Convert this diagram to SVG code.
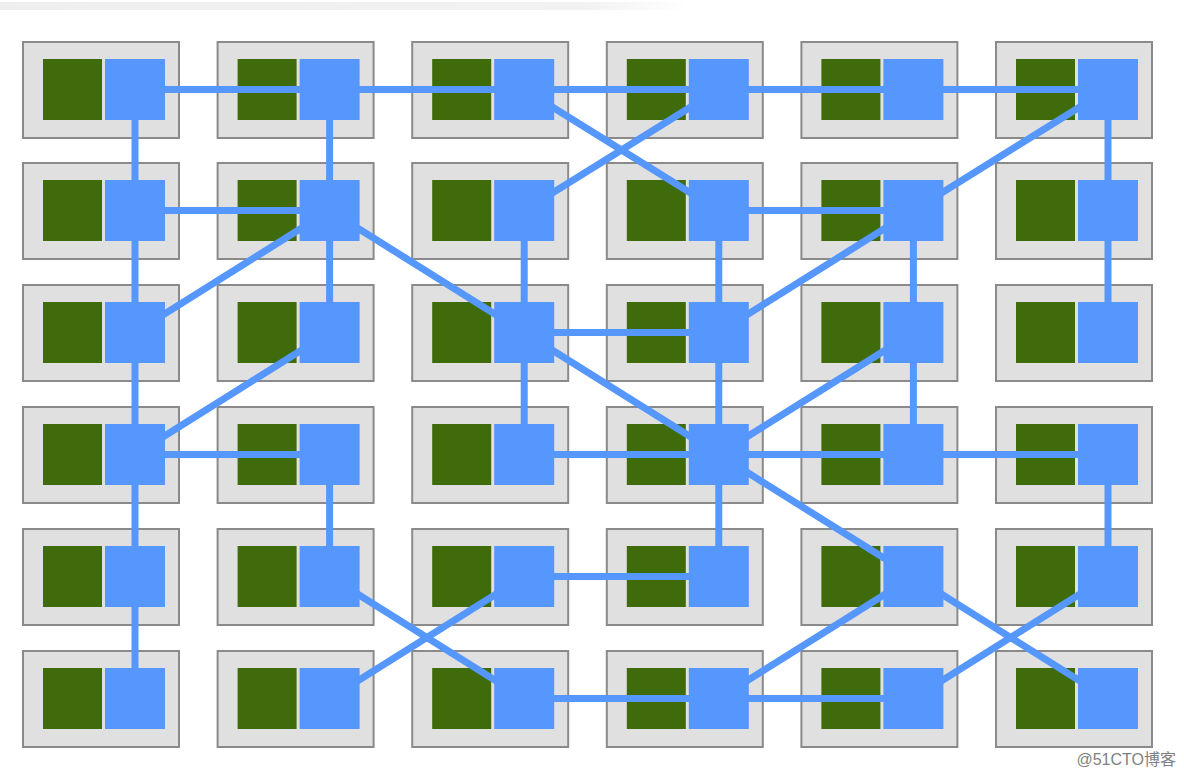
<svg xmlns="http://www.w3.org/2000/svg" width="1184" height="778" viewBox="0 0 1184 778">
<style>
.cell{fill:#e0e0e0;stroke:#8a8a8a;stroke-width:2}
.g{fill:#3f6b0a}
.b{fill:#5597fd}
.ln{stroke:#5597fd;stroke-width:7;fill:none;stroke-linecap:butt}
.wm{font-family:"Liberation Sans","Noto Sans CJK SC",sans-serif;font-size:16px;fill:#808080}
</style>
<defs>
<linearGradient id="band" x1="0" y1="0" x2="1" y2="0">
<stop offset="0" stop-color="#eeeeee"/>
<stop offset="0.85" stop-color="#f2f2f2"/>
<stop offset="1" stop-color="#ffffff"/>
</linearGradient>
<g id="nodeShape">
<rect class="cell" x="1" y="1" width="156" height="96"/>
<rect class="g" x="21" y="18" width="59" height="61"/>
<rect class="b" x="83" y="18" width="60" height="61"/>
</g>
</defs>
<rect x="0" y="0" width="1184" height="778" fill="#ffffff"/>
<rect x="0" y="2" width="690" height="8" fill="url(#band)"/>
<g id="nodes">
<g id="n00" transform="translate(22,41)"><use href="#nodeShape"/></g>
<g id="n01" transform="translate(216.6,41)"><use href="#nodeShape"/></g>
<g id="n02" transform="translate(411.2,41)"><use href="#nodeShape"/></g>
<g id="n03" transform="translate(605.8,41)"><use href="#nodeShape"/></g>
<g id="n04" transform="translate(800.4,41)"><use href="#nodeShape"/></g>
<g id="n05" transform="translate(995,41)"><use href="#nodeShape"/></g>
<g id="n10" transform="translate(22,162)"><use href="#nodeShape"/></g>
<g id="n11" transform="translate(216.6,162)"><use href="#nodeShape"/></g>
<g id="n12" transform="translate(411.2,162)"><use href="#nodeShape"/></g>
<g id="n13" transform="translate(605.8,162)"><use href="#nodeShape"/></g>
<g id="n14" transform="translate(800.4,162)"><use href="#nodeShape"/></g>
<g id="n15" transform="translate(995,162)"><use href="#nodeShape"/></g>
<g id="n20" transform="translate(22,284)"><use href="#nodeShape"/></g>
<g id="n21" transform="translate(216.6,284)"><use href="#nodeShape"/></g>
<g id="n22" transform="translate(411.2,284)"><use href="#nodeShape"/></g>
<g id="n23" transform="translate(605.8,284)"><use href="#nodeShape"/></g>
<g id="n24" transform="translate(800.4,284)"><use href="#nodeShape"/></g>
<g id="n25" transform="translate(995,284)"><use href="#nodeShape"/></g>
<g id="n30" transform="translate(22,406)"><use href="#nodeShape"/></g>
<g id="n31" transform="translate(216.6,406)"><use href="#nodeShape"/></g>
<g id="n32" transform="translate(411.2,406)"><use href="#nodeShape"/></g>
<g id="n33" transform="translate(605.8,406)"><use href="#nodeShape"/></g>
<g id="n34" transform="translate(800.4,406)"><use href="#nodeShape"/></g>
<g id="n35" transform="translate(995,406)"><use href="#nodeShape"/></g>
<g id="n40" transform="translate(22,528)"><use href="#nodeShape"/></g>
<g id="n41" transform="translate(216.6,528)"><use href="#nodeShape"/></g>
<g id="n42" transform="translate(411.2,528)"><use href="#nodeShape"/></g>
<g id="n43" transform="translate(605.8,528)"><use href="#nodeShape"/></g>
<g id="n44" transform="translate(800.4,528)"><use href="#nodeShape"/></g>
<g id="n45" transform="translate(995,528)"><use href="#nodeShape"/></g>
<g id="n50" transform="translate(22,650)"><use href="#nodeShape"/></g>
<g id="n51" transform="translate(216.6,650)"><use href="#nodeShape"/></g>
<g id="n52" transform="translate(411.2,650)"><use href="#nodeShape"/></g>
<g id="n53" transform="translate(605.8,650)"><use href="#nodeShape"/></g>
<g id="n54" transform="translate(800.4,650)"><use href="#nodeShape"/></g>
<g id="n55" transform="translate(995,650)"><use href="#nodeShape"/></g>
</g>
<g id="connectors" class="ln">
<!-- horizontals -->
<path d="M135,89.5 H1108"/>
<path d="M135,210.5 H329.6"/>
<path d="M718.8,210.5 H913.4"/>
<path d="M524.2,332.5 H718.8"/>
<path d="M135,454.5 H329.6"/>
<path d="M524.2,454.5 H1108"/>
<path d="M524.2,576.5 H718.8"/>
<path d="M524.2,698.5 H913.4"/>
<!-- verticals -->
<path d="M135,89.5 V698.5"/>
<path d="M329.6,89.5 V332.5"/>
<path d="M329.6,454.5 V576.5"/>
<path d="M524.2,210.5 V454.5"/>
<path d="M718.8,210.5 V576.5"/>
<path d="M913.4,210.5 V454.5"/>
<path d="M1108,89.5 V332.5"/>
<path d="M1108,454.5 V576.5"/>
<!-- diagonals -->
<path d="M524.2,89.5 L718.8,210.5"/>
<path d="M718.8,89.5 L524.2,210.5"/>
<path d="M1108,89.5 L913.4,210.5"/>
<path d="M329.6,210.5 L135,332.5"/>
<path d="M329.6,210.5 L524.2,332.5"/>
<path d="M913.4,210.5 L718.8,332.5"/>
<path d="M329.6,332.5 L135,454.5"/>
<path d="M524.2,332.5 L718.8,454.5"/>
<path d="M913.4,332.5 L718.8,454.5"/>
<path d="M718.8,454.5 L913.4,576.5"/>
<path d="M329.6,576.5 L524.2,698.5"/>
<path d="M524.2,576.5 L329.6,698.5"/>
<path d="M913.4,576.5 L718.8,698.5"/>
<path d="M913.4,576.5 L1108,698.5"/>
<path d="M1108,576.5 L913.4,698.5"/>
</g>
<text class="wm" x="1176" y="765" text-anchor="end">@51CTO博客</text>
</svg>
